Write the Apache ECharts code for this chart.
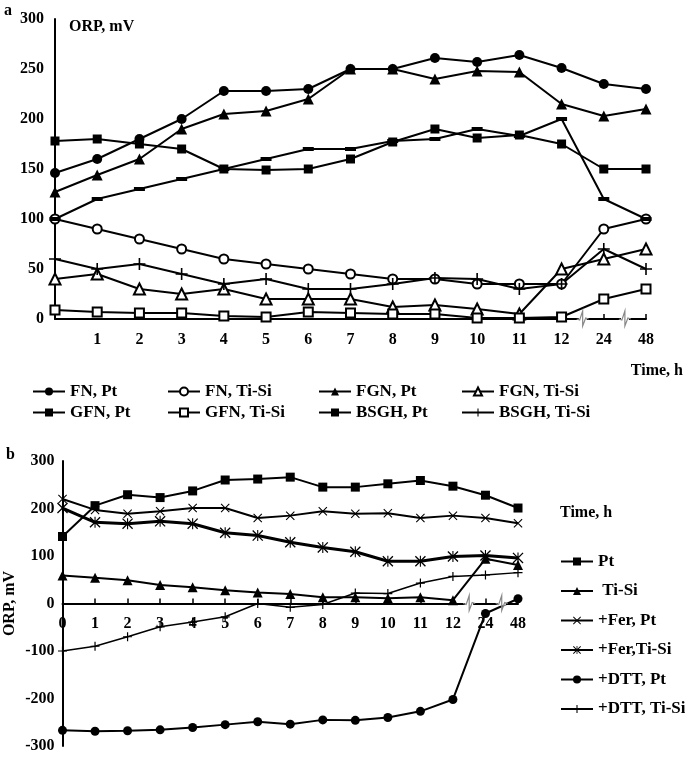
<!DOCTYPE html>
<html><head><meta charset="utf-8">
<script src="https://cdn.jsdelivr.net/npm/echarts@6/dist/echarts.min.js"></script>
<style>html,body{margin:0;padding:0;background:#fff}#c{width:685px;height:757px}</style>
</head><body><div id="c"></div>
<script>
// ---------- data ----------
const categories = ['0','1','2','3','4','5','6','7','8','9','10','11','12','24','48'];

// panel a (ORP, mV)
const fnPt     = [146,160,180,200,228,228,230,250,250,261,257,264,251,235,230];
const fnTiSi   = [100,90,80,70,60,55,50,45,40,40,35,35,35,90,100];
const fgnPt    = [127,144,160,190,205,208,220,250,250,240,248,247,215,203,210];
const fgnTiSi  = [40,45,30,25,30,20,20,20,12,14,10,5,50,60,70];
const gfnPt    = [178,180,175,170,150,149,150,160,177,190,181,184,175,150,150];
const gfnTiSi  = [9,7,6,6,3,2,7,6,5,5,1,1,2,20,30];
const bsghPt   = [100,120,130,140,150,160,170,170,178,180,190,183,200,120,100];
const bsghTiSi = [60,50,55,45,35,40,30,30,35,41,40,30,35,70,50];

// panel b (ORP, mV)
const bPt      = [141,206,229,223,237,260,262,266,245,245,252,259,247,228,201];
const bTiSi    = [59,54,49,39,34,28,23,20,13,13,11,13,7,94,81];
const ferPt    = [220,197,189,194,201,201,180,185,194,189,190,180,185,180,169];
const ferTiSi  = [201,171,168,173,168,149,143,129,118,109,89,89,99,101,96];
const dttPt    = [-267,-269,-268,-266,-261,-255,-249,-254,-245,-246,-240,-227,-202,-21,10];
const dttTiSi  = [-100,-90,-70,-49,-39,-28,0,-8,-2,22,21,43,57,60,65];

const yTicksA = [0,50,100,150,200,250,300];
const yTicksB = [-300,-200,-100,0,100,200,300];

// ---------- styling ----------
const FONT = 'Liberation Serif';
const txt = {fontFamily: FONT, fontWeight: 'bold', fontSize: 16, color: '#000'};
const ltxt = Object.assign({}, txt, {fontSize: 17});
const PLUS  = 'path://M0,5.2H12V6.8H0Z M5.2,0H6.8V12H5.2Z';
const CROSS = 'path://M0,1L1,0L12,11L11,12Z M11,0L12,1L1,12L0,11Z';
const STAR  = 'path://M0,1L1,0L12,11L11,12Z M11,0L12,1L1,12L0,11Z M5.4,0H6.6V12H5.4Z';
const DASH  = 'path://M0,0H12V4H0Z';

function line(name, data, symbol, size, g, opts) {
  opts = opts || {};
  const empty = symbol.indexOf('empty') === 0;
  return {
    name, type: 'line', data, xAxisIndex: g, yAxisIndex: g,
    symbol, symbolSize: size, showAllSymbol: true,
    lineStyle: {color: '#000', width: opts.lw || 2},
    itemStyle: {color: '#000', borderColor: '#000', borderWidth: empty ? 1.5 : 0},
    emphasis: {disabled: true}, animation: false, z: opts.z || 3
  };
}

function breaks(g) {
  return {
    type: 'custom', xAxisIndex: g, yAxisIndex: g, silent: true, z: 6,
    data: [[12, 13, 0], [13, 14, 0]],
    encode: {x: 0, y: 2},
    renderItem: function (params, api) {
      const a = api.coord([api.value(0), 0]);
      const b = api.coord([api.value(1), 0]);
      const mx = (a[0] + b[0]) / 2, y = a[1];
      return {
        type: 'group', children: [
          {type: 'rect', shape: {x: mx - 4, y: y - 2, width: 8, height: 4}, style: {fill: '#fff'}},
          {type: 'polyline', shape: {points: [[mx - 6, y], [mx - 3, y + 1], [mx, y - 8], [mx, y + 7], [mx + 3, y - 1], [mx + 6, y]]},
           style: {stroke: '#888', lineWidth: 1.2, fill: null}}
        ]
      };
    },
    animation: false
  };
}

const legendBase = {orient: 'vertical', itemWidth: 32, itemHeight: 10, itemGap: 4, padding: 0,
                    textStyle: ltxt, selectedMode: false};

const option = {
  backgroundColor: '#fff',
  animation: false,
  textStyle: {fontFamily: FONT},
  title: [
    {text: 'a', left: 4, top: 3, padding: 0, textStyle: txt},
    {text: 'ORP, mV', left: 69, top: 19, padding: 0, textStyle: txt},
    {text: 'Time, h', right: 2, top: 363, padding: 0, textStyle: txt},
    {text: 'b', left: 6, top: 447, padding: 0, textStyle: txt},
    {text: 'Time, h', left: 560, top: 505, padding: 0, textStyle: txt}
  ],
  grid: [
    {left: 55, right: 39, top: 19, height: 300, outerBoundsMode: 'none', containLabel: false},
    {left: 62.5, right: 167, top: 461, height: 285, outerBoundsMode: 'none', containLabel: false}
  ],
  xAxis: [
    {gridIndex: 0, type: 'category', data: categories, boundaryGap: false, position: 'bottom',
     axisLine: {onZero: false, lineStyle: {color: '#000', width: 2}},
     axisTick: {inside: true, length: 5, lineStyle: {color: '#000', width: 1.5},
                interval: function (i) { return i >= 13; }},
     axisLabel: Object.assign({}, txt, {margin: 13, interval: 0,
                formatter: function (v) { return v === '0' ? '' : v; }}),
     splitLine: {show: false}},
    // panel b: axis line + ticks on the zero line
    {gridIndex: 1, type: 'category', data: categories, boundaryGap: false, position: 'bottom',
     axisLine: {onZero: true, lineStyle: {color: '#000', width: 2}},
     axisTick: {inside: true, length: 5, interval: 0, lineStyle: {color: '#000', width: 1.5}},
     axisLabel: {show: false},
     splitLine: {show: false}},
    // panel b: labels just under the zero line
    {gridIndex: 1, type: 'category', data: categories, boundaryGap: false, position: 'bottom',
     offset: -142.5,
     axisLine: {show: false, onZero: false},
     axisTick: {show: false},
     axisLabel: Object.assign({}, txt, {margin: 12, interval: 0}),
     splitLine: {show: false}}
  ],
  yAxis: [
    {gridIndex: 0, type: 'value', min: yTicksA[0], max: yTicksA[yTicksA.length - 1], interval: 50,
     axisLine: {show: true, onZero: false, lineStyle: {color: '#000', width: 2}},
     axisTick: {show: false},
     axisLabel: Object.assign({}, txt, {margin: 11}),
     splitLine: {show: false}},
    {gridIndex: 1, type: 'value', min: yTicksB[0], max: yTicksB[yTicksB.length - 1], interval: 100,
     name: 'ORP, mV', nameLocation: 'middle', nameGap: 45, nameRotate: 90, nameTextStyle: txt,
     nameMoveOverlap: false,
     axisLine: {show: true, onZero: false, lineStyle: {color: '#000', width: 2}},
     axisTick: {show: false},
     axisLabel: Object.assign({}, txt, {margin: 8}),
     splitLine: {show: false}}
  ],
  legend: [
    Object.assign({}, legendBase, {left: 32, top: 383, data: ['FN, Pt', 'GFN, Pt']}),
    Object.assign({}, legendBase, {left: 167, top: 383, data: ['FN, Ti-Si', 'GFN, Ti-Si']}),
    Object.assign({}, legendBase, {left: 318, top: 383, data: ['FGN, Pt', 'BSGH, Pt']}),
    Object.assign({}, legendBase, {left: 461, top: 383, data: ['FGN, Ti-Si', 'BSGH, Ti-Si']}),
    Object.assign({}, legendBase, {left: 560, top: 553, itemWidth: 32, itemGap: 12.5,
      formatter: function (n) { return n === 'Ti-Si' ? ' Ti-Si' : n; },
      data: ['Pt', 'Ti-Si', '+Fer, Pt', '+Fer,Ti-Si', '+DTT, Pt', '+DTT, Ti-Si']})
  ],
  series: [
    line('FN, Pt', fnPt, 'circle', 10, 0),
    line('FN, Ti-Si', fnTiSi, 'emptyCircle', 9, 0),
    line('FGN, Pt', fgnPt, 'triangle', 11, 0),
    line('FGN, Ti-Si', fgnTiSi, 'emptyTriangle', 11, 0),
    line('GFN, Pt', gfnPt, 'rect', 9, 0),
    line('GFN, Ti-Si', gfnTiSi, 'emptyRect', 9, 0),
    line('BSGH, Pt', bsghPt, DASH, [11, 4], 0),
    line('BSGH, Ti-Si', bsghTiSi, PLUS, 12, 0),
    breaks(0),
    line('Pt', bPt, 'rect', 9, 1),
    line('Ti-Si', bTiSi, 'triangle', 10, 1),
    line('+Fer, Pt', ferPt, CROSS, 9, 1),
    line('+Fer,Ti-Si', ferTiSi, STAR, 11, 1, {lw: 3}),
    line('+DTT, Pt', dttPt, 'circle', 9, 1),
    line('+DTT, Ti-Si', dttTiSi, PLUS, 9, 1, {lw: 1.5}),
    breaks(1)
  ]
};

const chart = echarts.init(document.getElementById('c'), null, {renderer: 'canvas'});
chart.setOption(option);
</script>
</body></html>
